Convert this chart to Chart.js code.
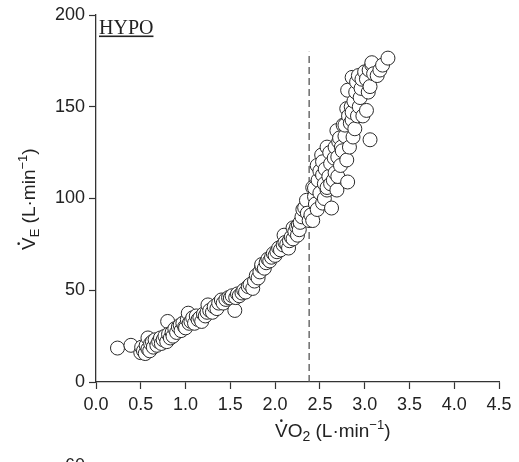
<!DOCTYPE html>
<html>
<head>
<meta charset="utf-8">
<script src="https://cdn.jsdelivr.net/npm/chart.js@4.4.1/dist/chart.umd.min.js"></script>
<style>
    html, body { margin: 0; padding: 0; background: #fff; }
    canvas { display: block; }
</style>
</head>
<body>
<canvas id="ve-chart" width="519" height="462"></canvas>
<script>
// VO2 (L/min) and VE (L/min) pairs
var vo2Values = [
    0.24, 0.39, 0.50, 0.51, 0.53, 0.55, 0.56, 0.58, 0.58, 0.60, 0.61, 0.63, 0.64, 0.66, 0.68, 0.70,
    0.72, 0.73, 0.75, 0.77, 0.79, 0.80, 0.81, 0.83, 0.85, 0.86, 0.88, 0.90, 0.92, 0.94, 0.95, 0.97,
    0.99, 1.00, 1.02, 1.03, 1.04, 1.06, 1.08, 1.10, 1.12, 1.14, 1.16, 1.18, 1.20, 1.22, 1.24, 1.25,
    1.27, 1.30, 1.32, 1.35, 1.37, 1.40, 1.42, 1.45, 1.48, 1.50, 1.52, 1.55, 1.56, 1.58, 1.60, 1.63,
    1.65, 1.67, 1.70, 1.72, 1.75, 1.77, 1.79, 1.81, 1.83, 1.85, 1.85, 1.88, 1.90, 1.92, 1.94, 1.96,
    1.98, 2.00, 2.02, 2.04, 2.06, 2.09, 2.10, 2.11, 2.13, 2.15, 2.16, 2.18, 2.20, 2.20, 2.22, 2.24,
    2.25, 2.26, 2.27, 2.28, 2.30, 2.31, 2.33, 2.35, 2.36, 2.38, 2.40, 2.42, 2.42, 2.44, 2.44, 2.45,
    2.47, 2.47, 2.48, 2.50, 2.50, 2.52, 2.53, 2.53, 2.53, 2.55, 2.55, 2.56, 2.58, 2.58, 2.58, 2.60,
    2.61, 2.62, 2.62, 2.63, 2.65, 2.66, 2.67, 2.67, 2.69, 2.69, 2.70, 2.70, 2.71, 2.72, 2.73, 2.74,
    2.75, 2.76, 2.78, 2.78, 2.80, 2.80, 2.81, 2.81, 2.82, 2.83, 2.84, 2.85, 2.86, 2.86, 2.86, 2.87,
    2.88, 2.89, 2.90, 2.91, 2.92, 2.93, 2.94, 2.95, 2.96, 2.97, 2.98, 3.00, 3.02, 3.02, 3.04, 3.05,
    3.06, 3.06, 3.08, 3.08, 3.10, 3.14, 3.17, 3.20, 3.26
];
var veValues = [
    18.5, 20, 16, 19, 17, 15.5, 20, 24, 18, 17, 21, 22, 19, 23, 20, 22,
    24, 21, 23, 25, 22, 33, 26, 24, 27, 25, 29, 27, 30, 31, 28, 32,
    30, 29.5, 34, 37.5, 32, 33, 35, 32, 36, 34, 35, 33, 37, 36, 38, 42,
    39, 38, 41, 40, 43, 44.7, 43, 45, 46, 45.8, 47, 39, 46, 48, 47, 48.5,
    50, 49, 52, 53, 51, 55, 58, 56.7, 60, 63, 64, 62, 65, 67, 66, 68,
    70, 69, 71, 73, 72, 74.7, 80, 76, 75, 73, 77, 79, 78, 84, 82, 84.5,
    80, 85.5, 83, 87, 90, 94, 95, 99, 92, 88, 91, 88, 106, 101, 105.7, 97,
    94, 118, 110, 103, 115, 123.7, 97.5, 112.8, 120, 108, 100, 116, 104.6, 106, 128, 112,
    125, 119, 108, 94.8, 110, 122, 114, 128, 104.6, 137, 122.6, 112, 131, 133, 118, 128,
    126, 140, 134, 140, 121, 149, 109, 159, 145, 128, 141, 150, 142.8, 147, 166, 133.5,
    153, 138, 158, 163.5, 145, 167, 150, 155, 160, 165, 145, 169, 148, 165, 158, 170,
    132, 161, 172.7, 174, 168, 167, 170, 172.7, 176.5
];

var xTicks = [0, 0.5, 1.0, 1.5, 2.0, 2.5, 3.0, 3.5, 4.0, 4.5];
var yTicks = [0, 50, 100, 150, 200];
var thresholdVO2 = 2.38;
var thresholdTop = 180;

var panelLabel = 'HYPO';
var nextPanelTick = '60';

var sansFont = '"Liberation Sans", Arial, sans-serif';
var serifFont = '"Liberation Serif", "Times New Roman", serif';
var inkColor = '#222';
var axisColor = '#333';

var points = vo2Values.map(function (v, i) {
    return { x: v, y: veValues[i] };
});

// draws a run of text pieces (normal / sub / sup) from the current origin
function drawRich(ctx, pieces, dotFirst) {
    var x = 0;
    pieces.forEach(function (p, i) {
        ctx.font = p.size + 'px ' + sansFont;
        ctx.fillText(p.text, x, p.dy || 0);
        var w = ctx.measureText(p.text).width;
        if (i === 0 && dotFirst) {
            ctx.beginPath();
            ctx.arc(x + w / 2, -p.size * 0.86, 1.3, 0, Math.PI * 2);
            ctx.fill();
        }
        x += w;
    });
}

var labelPlugin = {
    id: 'labels',
    afterDraw: function (chart) {
        var ctx = chart.ctx;
        var area = chart.chartArea;
        ctx.save();
        ctx.fillStyle = inkColor;
        ctx.textBaseline = 'alphabetic';
        ctx.textAlign = 'left';

        // panel name, underlined
        ctx.font = '20px ' + serifFont;
        var hx = area.left + 3;
        ctx.fillText(panelLabel, hx, 34);
        var hw = ctx.measureText(panelLabel).width;
        ctx.fillRect(hx, 35.5, hw, 1.6);

        // x axis title
        ctx.save();
        ctx.translate(275, 437);
        drawRich(ctx, [
            { text: 'V', size: 19 },
            { text: 'O', size: 19 },
            { text: '2', size: 14, dy: 4 },
            { text: ' (L·min', size: 19 },
            { text: '−1', size: 13, dy: -8 },
            { text: ')', size: 19 }
        ], true);
        ctx.restore();

        // y axis title
        ctx.save();
        ctx.translate(35, 250);
        ctx.rotate(-Math.PI / 2);
        drawRich(ctx, [
            { text: 'V', size: 19 },
            { text: 'E', size: 13, dy: 4 },
            { text: ' (L·min', size: 19 },
            { text: '−1', size: 13, dy: -8 },
            { text: ')', size: 19 }
        ], true);
        ctx.restore();

        // top tick of the panel below, cut by the page edge
        ctx.font = '18px ' + sansFont;
        ctx.textAlign = 'right';
        ctx.fillText(nextPanelTick, 85, 471);
        ctx.restore();
    }
};

new Chart(document.getElementById('ve-chart'), {
    type: 'scatter',
    data: {
        datasets: [
            {
                label: 'threshold',
                type: 'line',
                data: [{ x: thresholdVO2, y: 0 }, { x: thresholdVO2, y: thresholdTop }],
                borderColor: '#555',
                borderWidth: 1.3,
                borderDash: [7, 4],
                pointRadius: 0,
                fill: false,
                order: 2
            },
            {
                label: 'HYPO',
                data: points,
                pointRadius: 7,
                pointHoverRadius: 7,
                borderWidth: 1,
                borderColor: '#2a2a2a',
                backgroundColor: '#ffffff',
                order: 1
            }
        ]
    },
    options: {
        responsive: false,
        animation: false,
        clip: false,
        layout: { padding: { top: 15, right: 20, left: 0, bottom: 0 } },
        plugins: {
            legend: { display: false },
            tooltip: { enabled: false }
        },
        scales: {
            x: {
                type: 'linear',
                min: 0,
                max: 4.5,
                afterBuildTicks: function (scale) {
                    scale.ticks = xTicks.map(function (v) { return { value: v }; });
                },
                afterFit: function (scale) { scale.height = 80; },
                ticks: {
                    color: inkColor,
                    font: { family: sansFont, size: 18 },
                    padding: 5,
                    maxRotation: 0,
                    callback: function (value) { return Number(value).toFixed(1); }
                },
                grid: {
                    display: true,
                    drawOnChartArea: false,
                    drawTicks: true,
                    tickLength: 7,
                    tickWidth: 1.2,
                    color: axisColor
                },
                border: { display: true, color: axisColor, width: 1.3 }
            },
            y: {
                type: 'linear',
                min: 0,
                max: 200,
                afterBuildTicks: function (scale) {
                    scale.ticks = yTicks.map(function (v) { return { value: v }; });
                },
                afterFit: function (scale) { scale.width = 96; },
                ticks: {
                    color: inkColor,
                    font: { family: sansFont, size: 18 },
                    padding: 4
                },
                grid: {
                    display: true,
                    drawOnChartArea: false,
                    drawTicks: true,
                    tickLength: 7,
                    tickWidth: 1.2,
                    color: axisColor
                },
                border: { display: true, color: axisColor, width: 1.3 }
            }
        }
    },
    plugins: [labelPlugin]
});
</script>
</body>
</html>
